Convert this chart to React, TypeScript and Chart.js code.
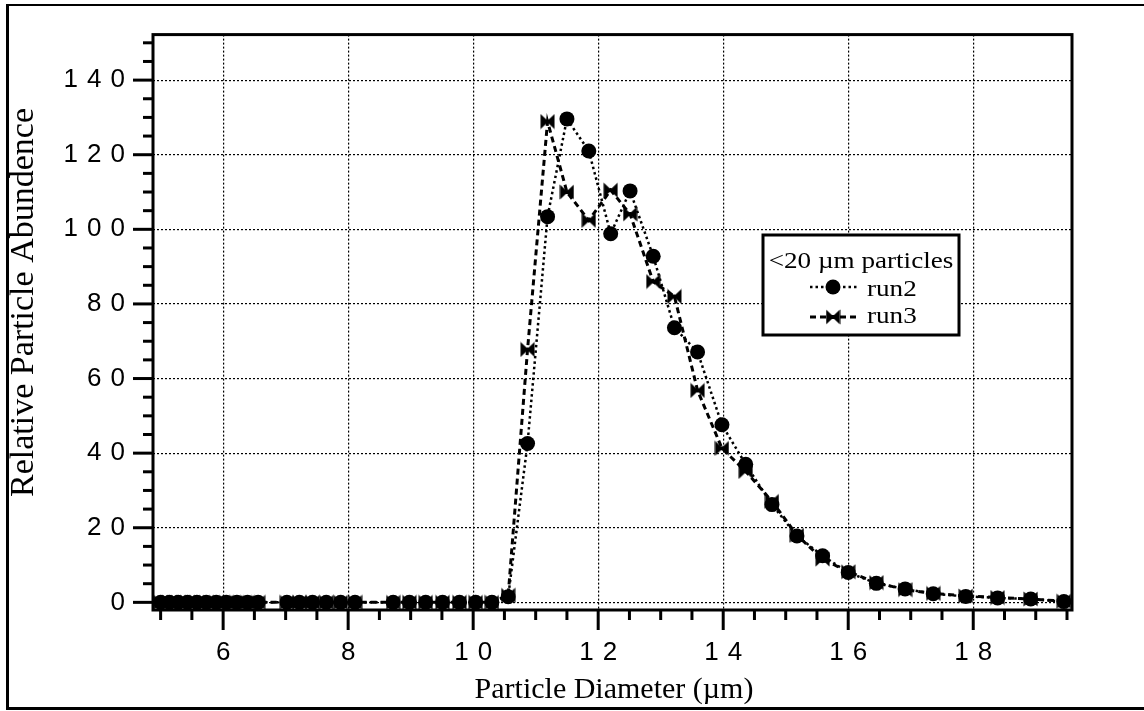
import React, { useEffect, useRef } from 'react';
import { Chart, registerables } from 'chart.js';

Chart.register(...registerables);

// Particle diameters (µm) shared by both runs
const diameters = [
  5.0, 5.14, 5.28, 5.43, 5.58, 5.73, 5.89, 6.05, 6.22, 6.39, 6.56,
  7.02, 7.22, 7.43, 7.65, 7.88, 8.11,
  8.72, 8.98, 9.24, 9.51, 9.78, 10.04, 10.3,
  10.56, 10.87, 11.19, 11.5, 11.85, 12.2, 12.51, 12.88, 13.22, 13.59, 13.98,
  14.36, 14.78, 15.18, 15.59, 16.0, 16.45, 16.91, 17.36, 17.88, 18.39, 18.92, 19.45,
];

const run2Values = [
  0, 0, 0, 0, 0, 0, 0, 0, 0, 0, 0,
  0, 0, 0, 0, 0, 0,
  0, 0, 0, 0, 0, 0, 0,
  1.5, 42.6, 103.4, 129.6, 121.0, 98.8, 110.3, 92.8, 73.6, 67.1, 47.6,
  37.0, 26.2, 17.8, 12.5, 8.0, 5.1, 3.6, 2.3, 1.6, 1.2, 0.9, 0.2,
];

const run3Values = [
  0, 0, 0, 0, 0, 0, 0, 0, 0, 0, 0,
  0, 0, 0, 0, 0, 0,
  0, 0, 0, 0, 0, 0, 0,
  1.9, 67.8, 128.9, 110.0, 102.4, 110.5, 104.1, 86.0, 82.0, 56.8, 41.3,
  35.1, 27.1, 18.0, 11.6, 8.2, 5.3, 3.4, 2.4, 1.7, 1.3, 0.9, 0.3,
];

const xLabelValues = [6, 8, 10, 12, 14, 16, 18];
const yLabelValues = [0, 20, 40, 60, 80, 100, 120, 140];

const seriesNames = ['run2', 'run3'];
const legendTitle = '<20 µm particles';
const xTitle = 'Particle Diameter (µm)';
const yTitle = 'Relative Particle Abundence';

const SERIF = '"Liberation Serif", "Times New Roman", serif';
const SANS = '"Liberation Sans", Arial, sans-serif';

const isLabelled = (v: number, list: number[]) =>
  list.some((l) => Math.abs(l - v) < 1e-6);

function makeBowtie(w: number, h: number): HTMLCanvasElement {
  const c = document.createElement('canvas');
  c.width = w;
  c.height = h;
  const g = c.getContext('2d')!;
  g.fillStyle = '#000';
  g.beginPath();
  g.moveTo(0.5, 0.5);
  g.lineTo(w / 2 + 1, h / 2);
  g.lineTo(0.5, h - 0.5);
  g.closePath();
  g.moveTo(w - 0.5, 0.5);
  g.lineTo(w / 2 - 1, h / 2);
  g.lineTo(w - 0.5, h - 0.5);
  g.closePath();
  g.fill();
  g.fillRect(w / 2 - 2, h / 2 - 2, 4, 4);
  return c;
}

function stretchedText(
  ctx: CanvasRenderingContext2D,
  text: string,
  x: number,
  y: number,
  font: string,
  sx: number,
  align: CanvasTextAlign
) {
  ctx.save();
  ctx.translate(x, y);
  ctx.scale(sx, 1);
  ctx.font = font;
  ctx.textAlign = align;
  ctx.textBaseline = 'alphabetic';
  ctx.fillStyle = '#000';
  ctx.fillText(text, 0, 0);
  ctx.restore();
}

export default function App() {
  const ref = useRef<HTMLCanvasElement>(null);

  useEffect(() => {
    const canvas = ref.current;
    if (!canvas) return;
    const bowtie = makeBowtie(15, 16);

    const decor = {
      id: 'decor',
      beforeDraw(chart: any) {
        (chart.ctx as any).letterSpacing = '9px';
      },
      beforeDatasetsDraw(chart: any) {
        (chart.ctx as any).letterSpacing = '0px';
      },
      afterDraw(chart: any) {
        const ctx: CanvasRenderingContext2D = chart.ctx;
        (ctx as any).letterSpacing = '0px';
        const { left, right, top, bottom } = chart.chartArea;
        const xs = chart.scales.x;
        const ys = chart.scales.y;

        ctx.save();
        ctx.strokeStyle = '#000';
        ctx.setLineDash([]);

        // tick marks (major / minor)
        ctx.lineWidth = 3;
        ys.ticks.forEach((t: any) => {
          const py = ys.getPixelForValue(t.value);
          const len = isLabelled(t.value, yLabelValues) ? 20 : 10;
          ctx.beginPath();
          ctx.moveTo(left - len, py);
          ctx.lineTo(left, py);
          ctx.stroke();
        });
        xs.ticks.forEach((t: any) => {
          const px = xs.getPixelForValue(t.value);
          const len = isLabelled(t.value, xLabelValues) ? 20 : 10;
          ctx.beginPath();
          ctx.moveTo(px, bottom);
          ctx.lineTo(px, bottom + len);
          ctx.stroke();
        });

        // plot frame
        ctx.lineWidth = 3;
        ctx.strokeRect(left, top, right - left, bottom - top);

        // outer frame
        ctx.beginPath();
        ctx.lineWidth = 3;
        ctx.moveTo(7.5, 4);
        ctx.lineTo(7.5, 710);
        ctx.moveTo(6, 708.5);
        ctx.lineTo(1144, 708.5);
        ctx.stroke();
        ctx.beginPath();
        ctx.lineWidth = 2;
        ctx.moveTo(6, 5);
        ctx.lineTo(1144, 5);
        ctx.stroke();

        // axis titles
        ctx.fillStyle = '#000';
        ctx.font = `30px ${SERIF}`;
        ctx.textAlign = 'center';
        ctx.textBaseline = 'alphabetic';
        ctx.fillText(xTitle, 614, 698);

        ctx.save();
        ctx.translate(33, 302.5);
        ctx.rotate(-Math.PI / 2);
        ctx.font = `34px ${SERIF}`;
        ctx.textAlign = 'center';
        ctx.fillText(yTitle, 0, 0);
        ctx.restore();

        // legend box
        const lx = 763, ly = 235, lw = 196, lh = 100;
        ctx.fillStyle = '#fff';
        ctx.fillRect(lx, ly, lw, lh);
        ctx.lineWidth = 3;
        ctx.strokeRect(lx, ly, lw, lh);
        stretchedText(ctx, legendTitle, 861, 268, `23px ${SERIF}`, 1.18, 'center');

        // run2 row
        ctx.lineWidth = 2.5;
        ctx.setLineDash([2.5, 3]);
        ctx.beginPath();
        ctx.moveTo(810, 287);
        ctx.lineTo(857, 287);
        ctx.stroke();
        ctx.setLineDash([]);
        ctx.fillStyle = '#000';
        ctx.beginPath();
        ctx.arc(833, 287, 7.5, 0, Math.PI * 2);
        ctx.fill();
        stretchedText(ctx, seriesNames[0], 867, 296, `23px ${SERIF}`, 1.18, 'left');

        // run3 row
        ctx.lineWidth = 3;
        ctx.setLineDash([6, 4]);
        ctx.beginPath();
        ctx.moveTo(810, 317);
        ctx.lineTo(857, 317);
        ctx.stroke();
        ctx.setLineDash([]);
        ctx.drawImage(bowtie, 833 - bowtie.width / 2, 317 - bowtie.height / 2);
        stretchedText(ctx, seriesNames[1], 867, 323, `23px ${SERIF}`, 1.18, 'left');

        ctx.restore();
      },
    };

    const gridColor = (list: number[]) => (c: any) => {
      const v = c.tick ? c.tick.value : NaN;
      return isLabelled(v, list) ? '#000' : 'rgba(0,0,0,0)';
    };

    const chart = new Chart(canvas, {
      type: 'line',
      data: {
        datasets: [
          {
            label: seriesNames[0],
            data: diameters.map((d, i) => ({ x: d, y: run2Values[i] })),
            borderColor: '#000',
            backgroundColor: '#000',
            borderWidth: 2.5,
            borderDash: [2.5, 3],
            pointStyle: 'circle',
            pointRadius: 7.5,
            pointBorderWidth: 0,
            pointBackgroundColor: '#000',
            tension: 0,
            fill: false,
          },
          {
            label: seriesNames[1],
            data: diameters.map((d, i) => ({ x: d, y: run3Values[i] })),
            borderColor: '#000',
            backgroundColor: '#000',
            borderWidth: 3,
            borderDash: [6, 4],
            pointStyle: bowtie as any,
            pointRadius: 7,
            pointBorderWidth: 0,
            pointBackgroundColor: '#000',
            tension: 0,
            fill: false,
          },
        ],
      },
      options: {
        responsive: false,
        animation: false,
        devicePixelRatio: 1,
        events: [],
        layout: { autoPadding: false, padding: { left: 0, top: 29, right: 72, bottom: 0 } },
        plugins: {
          legend: { display: false },
          tooltip: { enabled: false },
          title: { display: false },
        },
        scales: {
          x: {
            type: 'linear',
            min: 4.878,
            max: 19.58,
            afterFit: (s: any) => {
              s.height = 101;
            },
            border: { display: false, dash: [2, 2] },
            grid: {
              drawTicks: false,
              color: gridColor(xLabelValues),
              lineWidth: 1.2,
            },
            ticks: {
              stepSize: 0.5,
              includeBounds: false,
              autoSkip: false,
              maxRotation: 0,
              minRotation: 0,
              padding: 27,
              labelOffset: 4.5,
              color: '#000',
              font: { family: SANS, size: 26 },
              callback: (v: any) => (isLabelled(Number(v), xLabelValues) ? String(v) : ''),
            },
          },
          y: {
            type: 'linear',
            min: -2.05,
            max: 152.2,
            afterFit: (s: any) => {
              s.width = 153;
            },
            border: { display: false, dash: [2, 2] },
            grid: {
              drawTicks: false,
              color: gridColor(yLabelValues),
              lineWidth: 1.2,
            },
            ticks: {
              stepSize: 5,
              includeBounds: false,
              autoSkip: false,
              padding: 19,
              color: '#000',
              font: { family: SANS, size: 26 },
              callback: (v: any) => (isLabelled(Number(v), yLabelValues) ? String(v) : ''),
            },
          },
        },
      },
      plugins: [decor],
    } as any);

    return () => chart.destroy();
  }, []);

  return (
    <div
      style={{
        position: 'absolute',
        left: 0,
        top: 0,
        width: 1144,
        height: 711,
        background: '#fff',
      }}
    >
      <canvas ref={ref} width={1144} height={711} style={{ display: 'block', width: 1144, height: 711 }} />
    </div>
  );
}
